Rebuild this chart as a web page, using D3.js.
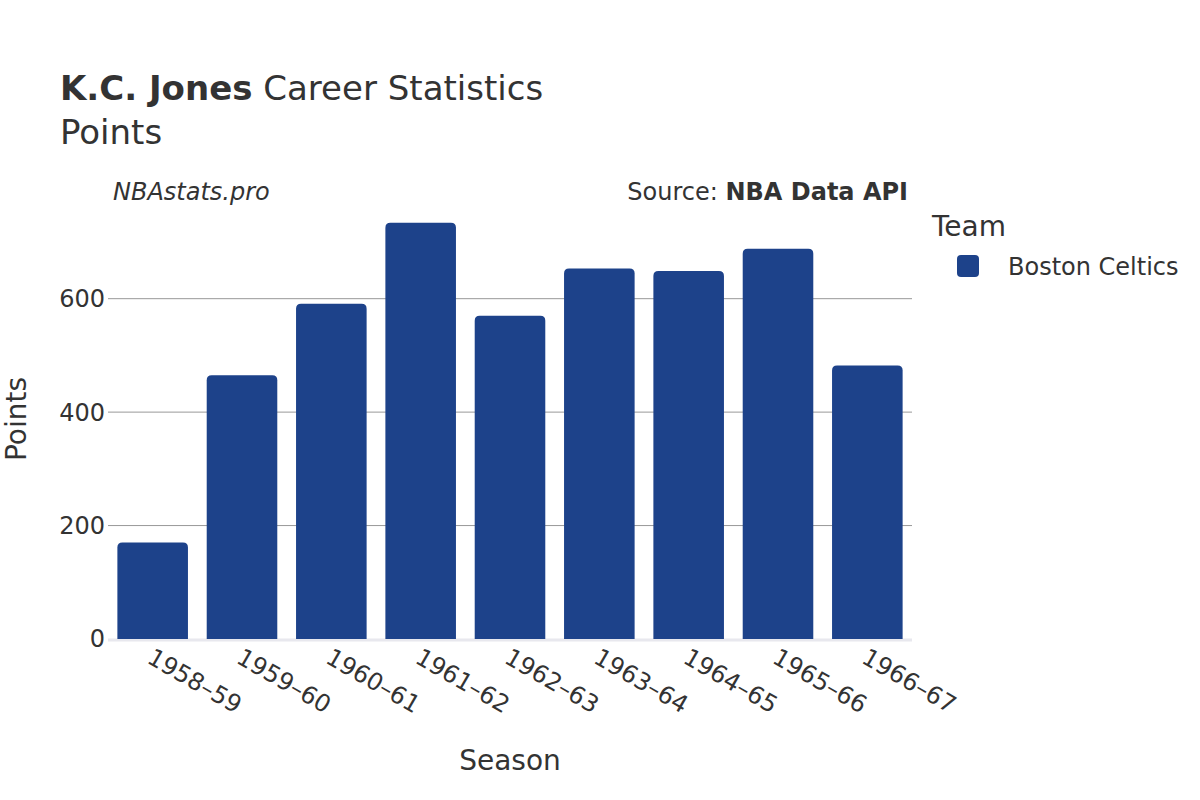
<!DOCTYPE html>
<html><head><meta charset="utf-8">
<script src="https://cdn.jsdelivr.net/npm/d3@7"></script>
<style>body{margin:0;background:#fff}svg{font-family:"DejaVu Sans",sans-serif}</style>
</head><body><svg id="c" width="1200" height="800"></svg>
<script>
const seasons=["1958-59","1959-60","1960-61","1961-62","1962-63","1963-64","1964-65","1965-66","1966-67"];
const points=[170,465,591,734,570,653,649,688,482];
const yTicks=[0,200,400,600];
const team="Boston Celtics";
const color="#1d428a";
const svg=d3.select("#c");
const L=108,R=912,T=190,B=639;
const x=d3.scaleBand().domain(seasons).range([L,R]).paddingInner(0.21).paddingOuter(0.105);
const y=d3.scaleLinear().domain([0,780]).range([B,B-780*0.5672]);
const txt="#333";
// grid
svg.append("g").selectAll("line").data(yTicks.filter(d=>d>0)).join("line")
 .attr("x1",L).attr("x2",R).attr("y1",d=>y(d)).attr("y2",d=>y(d)).attr("stroke","#999").attr("stroke-width",1);
svg.append("line").attr("x1",L).attr("x2",R).attr("y1",y(0)+1).attr("y2",y(0)+1).attr("stroke","#e8e8ee").attr("stroke-width",3);
// y ticks
svg.append("g").selectAll("text").data(yTicks).join("text")
 .attr("x",L-3).attr("y",d=>y(d)).attr("dy","0.35em").attr("text-anchor","end")
 .attr("font-size",24).attr("fill",txt).text(d=>d);
// bars
const r=5;
svg.append("g").selectAll("path").data(seasons).join("path")
 .attr("fill",color)
 .attr("d",(s,i)=>{const x0=x(s),w=x.bandwidth(),y0=y(points[i]),yb=y(0);
   return `M${x0},${yb}V${y0+r}Q${x0},${y0} ${x0+r},${y0}H${x0+w-r}Q${x0+w},${y0} ${x0+w},${y0+r}V${yb}Z`;});
// x labels
svg.append("g").selectAll("text").data(seasons).join("text")
 .attr("transform",s=>`translate(${x(s)+x.bandwidth()/2-7},${662}) rotate(30)`)
 .attr("font-size",24).attr("fill",txt).text(s=>s.replace("-","–"));
// titles
const t=svg.append("text").attr("x",60).attr("y",100).attr("font-size",34).attr("fill",txt);
t.append("tspan").attr("font-weight","bold").text("K.C. Jones");
t.append("tspan").text(" Career Statistics");
svg.append("text").attr("x",60).attr("y",144).attr("font-size",34).attr("fill",txt).text("Points");
svg.append("text").attr("x",113).attr("y",200).attr("font-size",24).attr("font-style","italic").attr("fill",txt).text("NBAstats.pro");
const s=svg.append("text").attr("x",908).attr("y",200).attr("font-size",24).attr("text-anchor","end").attr("fill",txt);
s.append("tspan").text("Source: ");
s.append("tspan").attr("font-weight","bold").text("NBA Data API");
svg.append("text").attr("transform","translate(26,419) rotate(-90)").attr("text-anchor","middle").attr("font-size",28).attr("fill",txt).text("Points");
svg.append("text").attr("x",510).attr("y",770).attr("text-anchor","middle").attr("font-size",28).attr("fill",txt).text("Season");
// legend
svg.append("text").attr("x",932).attr("y",236).attr("font-size",28).attr("fill",txt).text("Team");
svg.append("rect").attr("x",957).attr("y",255).attr("width",22).attr("height",22).attr("rx",4).attr("fill",color);
svg.append("text").attr("x",1008).attr("y",275).attr("font-size",24).attr("fill",txt).text(team);
</script></body></html>
